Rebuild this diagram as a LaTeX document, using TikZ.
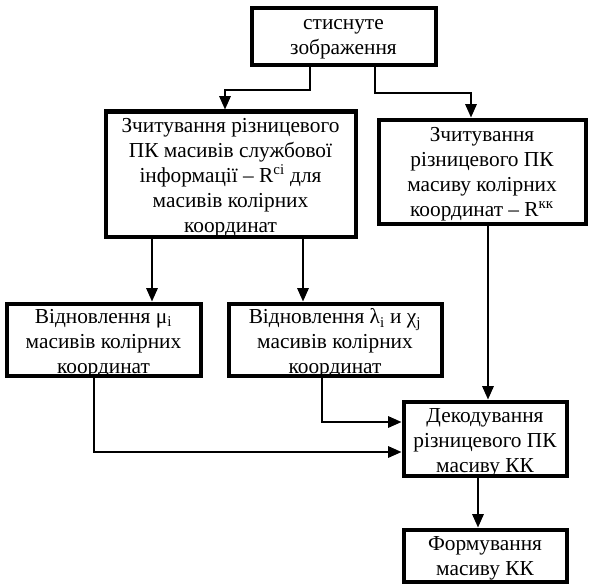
\documentclass[tikz,border=0pt]{standalone}
\usepackage{fontspec}
\setmainfont{Liberation Serif}
\usetikzlibrary{arrows.meta}
\begin{document}
\begin{tikzpicture}[x=0.75pt,y=-0.75pt,
  blk/.style n args={4}{draw=black,line width=3pt,inner sep=0pt,
    minimum width=#1*0.75pt,minimum height=#2*0.75pt,
    label={[align=center,inner sep=0pt,font=\fontsize{16}{18.8}\selectfont,yshift=-#3*0.75pt]center:#4}},
  conn/.style={line width=1.4pt,-{Triangle[length=10pt,width=8.5pt]}}]
\useasboundingbox (0,0) rectangle (589,585);
\node[blk={184}{57}{2}{стиснуте\\зображення}] (b1) at (343.5,37) {};
\node[blk={250}{125}{4}{Зчитування різницевого\\ПК масивів  службової\\інформації – R\textsuperscript{сі}  для\\масивів колірних\\координат}] (b2) at (230.5,174) {};
\node[blk={207}{104}{3}{Зчитування\\різницевого ПК\\масиву колірних\\координат – R\textsuperscript{кк}}] (b3) at (482,171.5) {};
\node[blk={194}{72}{4}{Відновлення μ\textsubscript{i}\\масивів колірних\\координат}] (b4) at (103.5,339.5) {};
\node[blk={213}{72}{4}{Відновлення λ\textsubscript{i} и χ\textsubscript{j}\\масивів колірних\\координат}] (b5) at (335,339.5) {};
\node[blk={163}{74}{4}{Декодування\\різницевого ПК\\масиву КК}] (b6) at (485,438.5) {};
\node[blk={163}{52}{3}{Формування\\масиву КК}] (b7) at (485,555.5) {};
% turn points
\coordinate (t1) at (310,90);
\coordinate (t2) at (225,90);
\coordinate (t3) at (375,93);
\coordinate (t4) at (471,93);
\coordinate (x24) at (152,0);
\coordinate (x25) at (303,0);
\coordinate (x36) at (488,0);
\coordinate (t5) at (322,422);
\coordinate (t6) at (94,452);
\coordinate (x67) at (478,0);
\draw[conn] (b1.south -| t1) -- (t1) -- (t2) -- (t2 |- b2.north);
\draw[conn] (b1.south -| t3) -- (t3) -- (t4) -- (t4 |- b3.north);
\draw[conn] (b2.south -| x24) -- (x24 |- b4.north);
\draw[conn] (b2.south -| x25) -- (x25 |- b5.north);
\draw[conn] (b3.south -| x36) -- (x36 |- b6.north);
\draw[conn] (b5.south -| t5) -- (t5) -- (t5 -| b6.west);
\draw[conn] (b4.south -| t6) -- (t6) -- (t6 -| b6.west);
\draw[conn] (b6.south -| x67) -- (x67 |- b7.north);
\end{tikzpicture}
\end{document}
